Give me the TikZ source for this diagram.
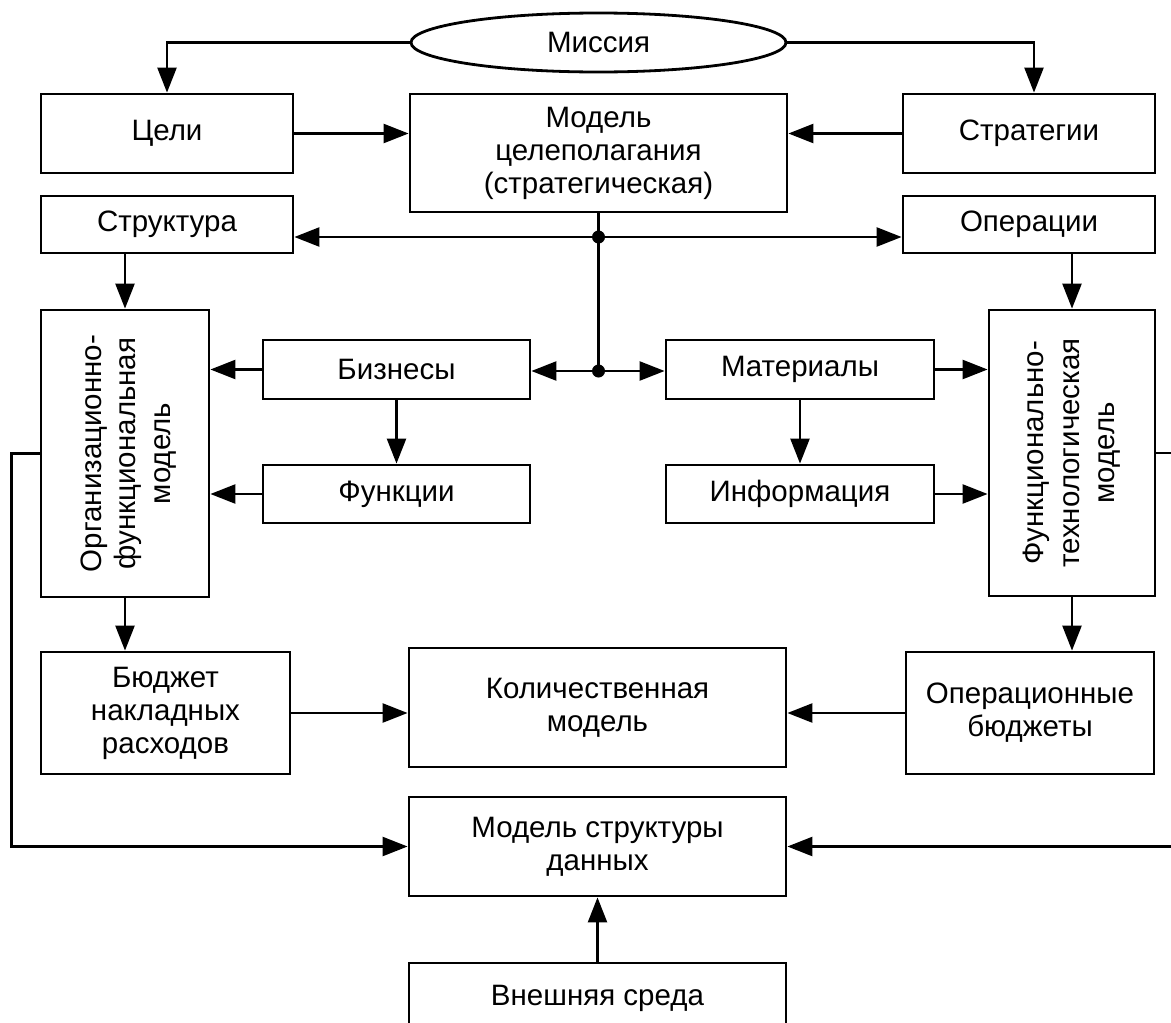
\documentclass[tikz,border=0pt]{standalone}
\usepackage{fontspec}
\setmainfont{Liberation Sans}
\usetikzlibrary{shapes.geometric,arrows.meta,calc}
\begin{document}
\begin{tikzpicture}[x=1pt,y=-1pt,
  box/.style={draw, line width=2.8pt, inner sep=0pt, align=center, font=\fontsize{29.5}{33}\selectfont},
  conn/.style={line width=2.4pt},
  arr/.style={conn, -{Triangle[length=25pt,width=19pt]}},
  dotj/.style={circle, fill, inner sep=0pt, minimum size=13pt}
]
\useasboundingbox (0,0) rectangle (1171,1023);
\clip (0,0) rectangle (1171,1023);
\fill[white] (0,0) rectangle (1171,1023);

% nodes
\node[box, ellipse, minimum width=375pt, minimum height=59pt] (mission) at (598.5,42.5) {Миссия};
\node[box, minimum width=252pt, minimum height=79pt] (celi) at (167,133.5) {Цели};
\node[box, minimum width=377pt, minimum height=118pt] (model) at (598.5,153) {Модель\\целеполагания\\(стратегическая)};
\node[box, minimum width=252pt, minimum height=79pt] (strat) at (1029,133.5) {Стратегии};
\node[box, minimum width=252pt, minimum height=57pt] (struct) at (167,224.5) {Структура};
\node[box, minimum width=252pt, minimum height=57pt] (oper) at (1029,224.5) {Операции};
\node[box, minimum width=168pt, minimum height=287pt] (org) at (125,453.5)
  {\hspace*{8pt}\rotatebox{90}{\fontsize{29.5}{34.5}\selectfont\begin{tabular}{@{}c@{}}Организационно-\\функциональная\\модель\end{tabular}}};
\node[box, minimum width=166pt, minimum height=286pt] (ftech) at (1072,453)
  {\rotatebox{90}{\fontsize{29.5}{35.5}\selectfont\begin{tabular}{@{}c@{}}Функционально-\\технологическая\\модель\end{tabular}}};
\node[box, minimum width=267pt, minimum height=59pt] (biz) at (396.5,369.5) {Бизнесы};
\node[box, minimum width=268pt, minimum height=59pt] (mat) at (800,369.5) {Материалы};
\node[box, minimum width=267pt, minimum height=58pt] (func) at (396.5,494) {Функции};
\node[box, minimum width=268pt, minimum height=58pt] (info) at (800,494) {Информация};
\node[box, minimum width=249pt, minimum height=122pt] (budget) at (165.5,713) {Бюджет\\накладных\\расходов};
\node[box, minimum width=377pt, minimum height=119pt] (kol) at (597.5,707.5) {Количественная\\модель};
\node[box, minimum width=248pt, minimum height=122pt] (opbud) at (1030,713) {Операционные\\бюджеты};
\node[box, minimum width=377pt, minimum height=99pt] (msd) at (597.5,846.5) {Модель структуры\\данных};
\node[box, minimum width=377pt, minimum height=70pt] (ext) at (597.5,998) {Внешняя среда};

\coordinate (j1) at (598.5,237);
\coordinate (j2) at (598.5,371);
\coordinate (rr) at (1190,454);

% connectors
\draw[arr] (mission.west) -| (celi.north);
\draw[arr] (mission.east) -| ($(strat.north)+(5,0)$);
\draw[arr] (celi.east) -- (celi.east -| model.west);
\draw[arr] (strat.west) -- (strat.west -| model.east);
\draw[conn] (model.south) -- (j2);
\draw[arr] (j1) -- (j1 -| struct.east);
\draw[arr] (j1) -- (j1 -| oper.west);
\draw[arr] (j2) -- (j2 -| biz.east);
\draw[arr] (j2) -- (j2 -| mat.west);
\node[dotj] at (j1) {};
\node[dotj] at (j2) {};
\draw[arr] (org.north |- struct.south) -- (org.north);
\draw[arr] (ftech.north |- oper.south) -- (ftech.north);
\draw[arr] (biz.west) -- (biz.west -| org.east);
\draw[arr] (func.west) -- (func.west -| org.east);
\draw[arr] (mat.east) -- (mat.east -| ftech.west);
\draw[arr] (info.east) -- (info.east -| ftech.west);
\draw[arr] (biz.south) -- (func.north);
\draw[arr] (mat.south) -- (info.north);
\draw[arr] (org.south) -- (org.south |- budget.north);
\draw[arr] (ftech.south) -- (ftech.south |- opbud.north);
\draw[arr] (budget.east) -- (budget.east -| kol.west);
\draw[arr] (opbud.west) -- (opbud.west -| kol.east);
\draw[arr] (org.west) -- ++(-28,0) |- (msd.west);
\draw[arr] (ftech.east) -- (ftech.east -| rr) |- (msd.east);
\draw[arr] (ext.north) -- (msd.south);
\end{tikzpicture}
\end{document}
